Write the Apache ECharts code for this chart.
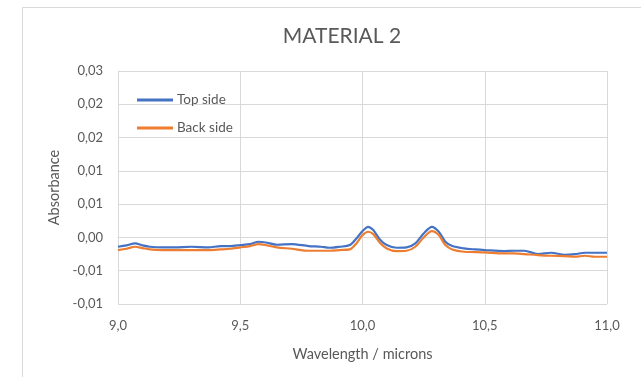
<!DOCTYPE html>
<html>
<head>
<meta charset="utf-8">
<script src="https://cdn.jsdelivr.net/npm/echarts@6/dist/echarts.min.js"></script>
<style>
html,body{margin:0;padding:0;background:#fff;}
#c{width:641px;height:377px;}
</style>
</head>
<body>
<div id="c"></div>
<script>
// Wavelength (microns)
var wavelengths = [9.0, 9.035, 9.07, 9.1, 9.13, 9.18, 9.23, 9.3, 9.37, 9.42, 9.46, 9.5, 9.54, 9.575, 9.61, 9.65, 9.71, 9.78, 9.83, 9.865, 9.907, 9.948, 9.975, 10.0, 10.023, 10.044, 10.071, 10.099, 10.14, 10.18, 10.216, 10.25, 10.284, 10.312, 10.339, 10.367, 10.415, 10.46, 10.5, 10.58, 10.62, 10.662, 10.717, 10.772, 10.827, 10.87, 10.909, 10.95, 11.0];
// Absorbance, Top side
var topSide = [-0.0014, -0.0012, -0.0009, -0.0012, -0.0014, -0.0015, -0.0015, -0.0014, -0.0015, -0.0013, -0.0013, -0.00115, -0.001, -0.00065, -0.0008, -0.0011, -0.001, -0.0013, -0.0014, -0.00155, -0.0014, -0.00115, -0.00015, 0.00095, 0.0016, 0.0011, -0.0003, -0.00115, -0.00155, -0.0015, -0.0009, 0.0006, 0.0016, 0.00085, -0.00065, -0.0013, -0.00165, -0.0018, -0.0019, -0.00205, -0.002, -0.002, -0.0025, -0.0023, -0.0026, -0.0025, -0.0023, -0.0023, -0.0023];
// Absorbance, Back side
var backSide = [-0.0019, -0.0017, -0.0014, -0.0016, -0.0018, -0.0019, -0.0019, -0.0019, -0.0019, -0.0018, -0.0017, -0.0015, -0.0013, -0.001, -0.0012, -0.0015, -0.0017, -0.002, -0.002, -0.002, -0.0019, -0.0018, -0.0009, 0.00035, 0.00085, 0.0005, -0.0008, -0.00165, -0.00205, -0.002, -0.0014, 0.0, 0.00095, 0.00035, -0.00115, -0.0018, -0.00215, -0.0022, -0.00225, -0.0024, -0.0024, -0.0025, -0.00265, -0.00275, -0.0028, -0.0029, -0.00275, -0.0029, -0.0029];
var yTickLabels = ['-0,01', '-0,01', '0,00', '0,01', '0,01', '0,02', '0,02', '0,03'];
var xTickLabels = ['9,0', '9,5', '10,0', '10,5', '11,0'];

var FONT = 'Lato';
var GREY = '#595959';
function pairs(ys){ return wavelengths.map(function(x,i){ return [x, ys[i]]; }); }

var chart = echarts.init(document.getElementById('c'), null, {renderer:'canvas'});
chart.setOption({
  animation:false,
  backgroundColor:'#ffffff',
  graphic:[{type:'rect', shape:{x:22.5, y:7.5, width:700, height:500}, style:{fill:'none', stroke:'#d9d9d9', lineWidth:1}, z:-1}],
  title:{text:'MATERIAL 2', left:337, top:21, textAlign:'center',
    textStyle:{fontFamily:FONT, fontSize:21, fontWeight:'normal', color:GREY}},
  legend:{orient:'vertical', left:132, top:88, itemWidth:36, itemHeight:3, itemGap:14, icon:'rect',
    textStyle:{fontFamily:FONT, fontSize:13.5, color:GREY, padding:[0,0,0,-1]},
    data:['Top side','Back side']},
  grid:{left:118, right:34, top:71, bottom:73},
  xAxis:{type:'value', min:9, max:11, interval:0.5,
    name:'Wavelength / microns', nameLocation:'middle', nameGap:43,
    nameTextStyle:{fontFamily:FONT, fontSize:14.5, color:GREY},
    axisLine:{show:true, lineStyle:{color:'#d9d9d9'}}, axisTick:{show:false},
    axisLabel:{fontFamily:FONT, fontSize:13, color:GREY, margin:15,
      formatter:function(v){ return xTickLabels[Math.round((v-9)/0.5)]; }},
    splitLine:{show:true, lineStyle:{color:'#d9d9d9'}}},
  yAxis:{type:'value', min:-0.01, max:0.025, interval:0.005,
    name:'Absorbance', nameLocation:'middle', nameGap:55,
    nameTextStyle:{fontFamily:FONT, fontSize:14.5, color:GREY},
    axisLine:{show:true, lineStyle:{color:'#d9d9d9'}}, axisTick:{show:false},
    axisLabel:{fontFamily:FONT, fontSize:13, color:GREY, margin:15,
      formatter:function(v){ return yTickLabels[Math.round((v+0.01)/0.005)]; }},
    splitLine:{show:true, lineStyle:{color:'#d9d9d9'}}},
  series:[
    {name:'Top side', type:'line', data:pairs(topSide), showSymbol:false, smooth:0.3,
      lineStyle:{color:'#4472C4', width:2.2}, itemStyle:{color:'#4472C4'}},
    {name:'Back side', type:'line', data:pairs(backSide), showSymbol:false, smooth:0.3,
      lineStyle:{color:'#ED7D31', width:2.2}, itemStyle:{color:'#ED7D31'}}
  ]
});
</script>
</body>
</html>
